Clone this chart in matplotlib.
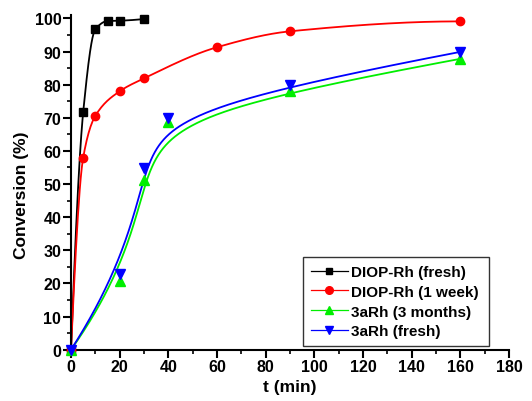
import numpy as np
import matplotlib
matplotlib.use("Agg")
import matplotlib.pyplot as plt
from matplotlib.ticker import MultipleLocator

# Data
t_diop_fresh = [0, 5, 10, 15, 20, 30]
c_diop_fresh = [0, 71.7, 96.7, 99.2, 99.3, 99.8]

t_diop_week = [0, 5, 10, 20, 30, 60, 90, 160]
c_diop_week = [0, 58, 70.6, 78, 81.9, 91.3, 96.1, 99.1]

t_3a_3m = [0, 20, 30, 40, 90, 160]
c_3a_3m = [0, 20.8, 51.1, 68.6, 78.2, 87.8]

t_3a_fresh = [0, 20, 30, 40, 90, 160]
c_3a_fresh = [0, 22.9, 54.9, 70.0, 80.0, 89.9]

labels = ["DIOP-Rh (fresh)", "DIOP-Rh (1 week)", "3aRh (3 months)", "3aRh (fresh)"]


def pchip(x, y, xs):
    x = np.asarray(x, float); y = np.asarray(y, float)
    h = np.diff(x); d = np.diff(y) / h
    n = len(x)
    m = np.zeros(n)
    for k in range(1, n - 1):
        if d[k - 1] * d[k] > 0:
            w1 = 2 * h[k] + h[k - 1]; w2 = h[k] + 2 * h[k - 1]
            m[k] = (w1 + w2) / (w1 / d[k - 1] + w2 / d[k])
    m[0] = ((2 * h[0] + h[1]) * d[0] - h[0] * d[1]) / (h[0] + h[1])
    if np.sign(m[0]) != np.sign(d[0]):
        m[0] = 0
    elif np.sign(d[0]) != np.sign(d[1]) and abs(m[0]) > abs(3 * d[0]):
        m[0] = 3 * d[0]
    m[-1] = ((2 * h[-1] + h[-2]) * d[-1] - h[-1] * d[-2]) / (h[-1] + h[-2])
    if np.sign(m[-1]) != np.sign(d[-1]):
        m[-1] = 0
    ys = np.empty_like(xs)
    idx = np.clip(np.searchsorted(x, xs) - 1, 0, n - 2)
    for i, xv in enumerate(xs):
        k = idx[i]
        s = (xv - x[k]) / h[k]
        h00 = 2 * s**3 - 3 * s**2 + 1; h10 = s**3 - 2 * s**2 + s
        h01 = -2 * s**3 + 3 * s**2; h11 = s**3 - s**2
        ys[i] = h00 * y[k] + h10 * h[k] * m[k] + h01 * y[k + 1] + h11 * h[k] * m[k + 1]
    return ys


def bspline(x, y, deg=3, npts=500):
    """Clamped uniform B-spline using the data points as control points."""
    P = np.column_stack([x, y]).astype(float)
    n = len(P)
    inner = np.linspace(0, 1, n - deg + 1)
    knots = np.concatenate([[0] * deg, inner, [1] * deg])
    u = np.linspace(0, 1, npts)
    u[-1] = 1 - 1e-12
    N = np.zeros((npts, len(knots) - 1))
    for i in range(len(knots) - 1):
        N[:, i] = (u >= knots[i]) & (u < knots[i + 1])
    for k in range(1, deg + 1):
        Nn = np.zeros((npts, len(knots) - 1 - k))
        for i in range(len(knots) - 1 - k):
            a = 0.0
            d1 = knots[i + k] - knots[i]
            d2 = knots[i + k + 1] - knots[i + 1]
            if d1 > 0:
                a = a + (u - knots[i]) / d1 * N[:, i]
            if d2 > 0:
                a = a + (knots[i + k + 1] - u) / d2 * N[:, i + 1]
            Nn[:, i] = a
        N = Nn
    C = N @ P
    return C[:, 0], C[:, 1]


plt.rcParams['font.family'] = ['Liberation Sans', 'DejaVu Sans']
plt.rcParams['font.weight'] = 'bold'

fig = plt.figure(figsize=(5.32, 4.02), dpi=100)
ax = fig.add_axes([0.1335, 0.1276, 0.8235, 0.8324])

series = [
    (t_diop_fresh, c_diop_fresh, 'black', 's', 5.2, 'interp'),
    (t_diop_week, c_diop_week, '#ff0000', 'o', 6.0, 'interp'),
    (t_3a_3m, c_3a_3m, '#00ee00', '^', 7.0, 'bspline'),
    (t_3a_fresh, c_3a_fresh, '#0000ff', 'v', 7.0, 'bspline'),
]
leg_ms = [4.0, 5.5, 6.0, 6.0]

for (tx, cy, col, mk, ms, kind), lab, lms in zip(series, labels, leg_ms):
    if kind == 'interp':
        xs = np.linspace(tx[0], tx[-1], 400)
        ys = pchip(tx, cy, xs)
    else:
        xs, ys = bspline(tx, cy)
    ax.plot(xs, ys, color=col, lw=1.3, clip_on=False, zorder=2)
    ax.plot(tx, cy, linestyle='none', marker=mk, color=col, ms=ms, clip_on=False, zorder=3)
    ax.plot([], [], color=col, lw=0.9, marker=mk, ms=lms, label=lab)

ax.set_xlim(0, 180)
ax.set_ylim(0, 101)
ax.spines['top'].set_visible(False)
ax.spines['right'].set_visible(False)
for s in ('left', 'bottom'):
    ax.spines[s].set_linewidth(1.5)
ax.xaxis.set_major_locator(MultipleLocator(20))
ax.xaxis.set_minor_locator(MultipleLocator(10))
ax.yaxis.set_major_locator(MultipleLocator(10))
ax.yaxis.set_minor_locator(MultipleLocator(5))
ax.tick_params(which='major', direction='out', length=5.5, width=1.5, labelsize=11.5, pad=1.5)
ax.tick_params(which='minor', direction='out', length=3, width=1.2)
for lbl in ax.get_xticklabels() + ax.get_yticklabels():
    lbl.set_fontweight('bold')

ax.set_xlabel('t (min)', fontsize=12.5, fontweight='bold', labelpad=3)
ax.set_ylabel('Conversion (%)', fontsize=12.5, fontweight='bold')
ax.yaxis.set_label_coords(-0.097, 0.466)

leg = ax.legend(loc='lower left', bbox_to_anchor=(0.530, 0.011, 0.425, 0.3), mode='expand',
                frameon=True, fancybox=False, edgecolor='black', fontsize=11,
                handlelength=2.4, handletextpad=0.2, borderpad=0.5, labelspacing=0.38,
                borderaxespad=0)
leg.get_frame().set_linewidth(1.0)
for txt in leg.get_texts():
    txt.set_fontweight('bold')

fig.savefig('out.png', dpi=100)
